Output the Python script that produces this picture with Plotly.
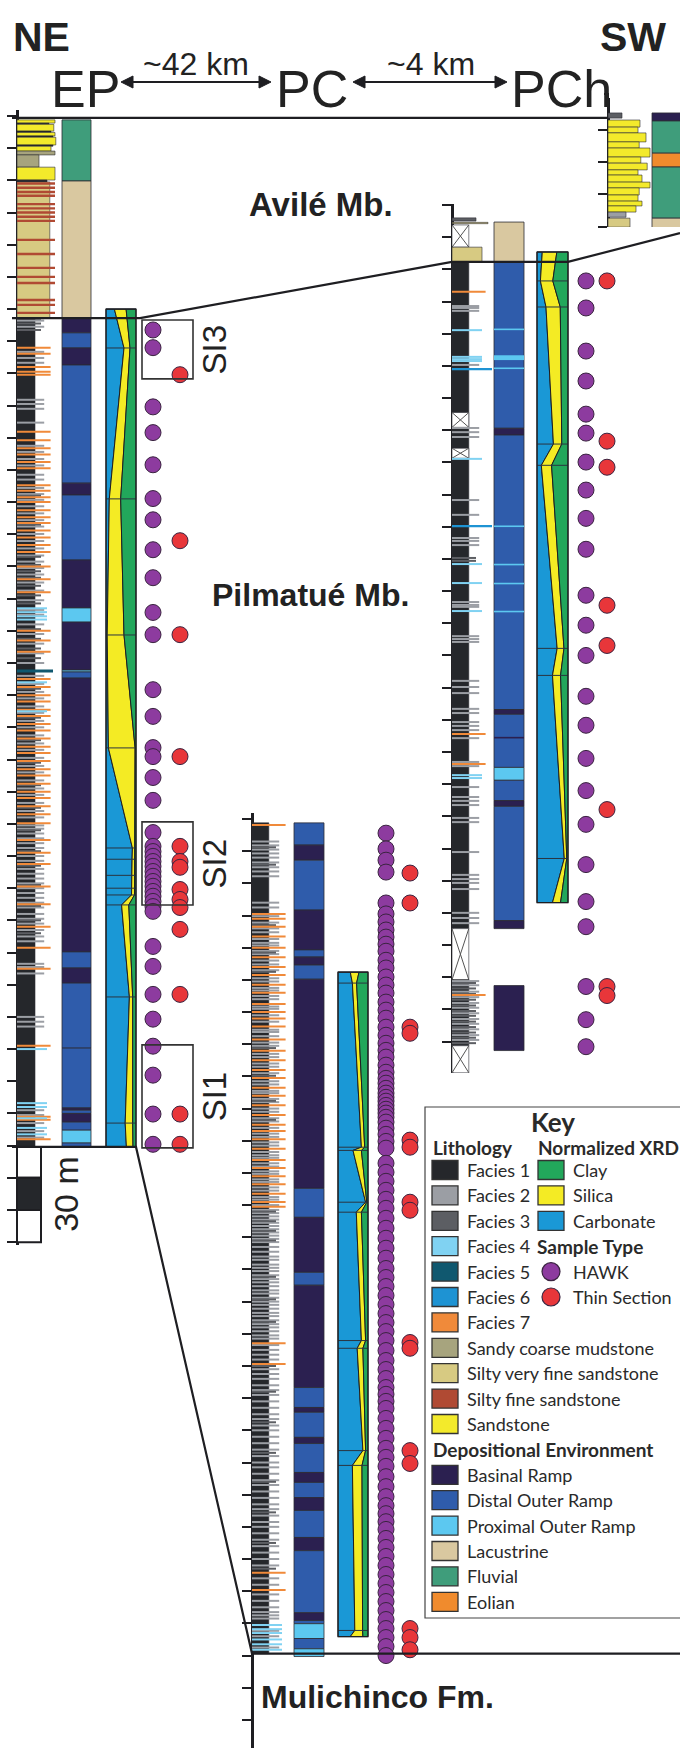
import plotly.graph_objects as go

W, H = 680, 1748
PXM = 3.2175            # pixels per metre, shared by every section
INK = "#1e1e22"
EDGE = "#2c2c34"
SANS = "Liberation Sans, Arial, sans-serif"
KEYFONT = "Lato, Carlito, sans-serif"

# ---------------------------------------------------------------- colours
LITH_COLORS = {
    "F1": "#25272b", "F2": "#9b9ea4", "F3": "#5c5e63", "F4": "#80d2f2",
    "F5": "#10586f", "F6": "#1e93d3", "F7": "#f08a3a",
    "SCM": "#a7a47e", "SVF": "#d7ca82", "SF": "#b04a33", "SS": "#f3ea2b",
    "COV": "#ffffff",
}
LINE_LEN = {"F2": 0.68, "F3": 0.6, "F4": 0.75, "F5": 0.9, "F6": 1.0, "F7": 0.84, "SF": 0.95}
ENV_COLORS = {"BR": "#2b2050", "DOR": "#2f5cab", "POR": "#5cc8f0",
              "LAC": "#d9c8a0", "FLU": "#3f9d7b", "EOL": "#f08b2d"}
XRD_COLORS = {"carb": "#1a98d6", "sil": "#f4eb24", "clay": "#22a75b"}
HAWK_COLOR = "#8d3b9f"
TS_COLOR = "#e8363a"

# ---------------------------------------------------------------- EP section (metres below datum)
EP_BEDS = [(1.2, 2.2, "SS", .95), (2.2, 2.6, "F1", .8), (2.6, 4.7, "SS", .92), (4.7, 5.1, "F1", .85),
           (5.1, 6.2, "SS", .95), (6.2, 6.6, "F1", .9), (6.6, 9.0, "SS", .97), (9.0, 9.4, "F1", .9),
           (9.4, 10.9, "SS", .85), (10.9, 12.1, "SCM", .95), (12.1, 15.9, "SCM", .55),
           (15.9, 19.9, "SS", .95), (19.9, 20.5, "F1", .75), (20.5, 62.8, "SVF", .82),
           (62.8, 320.4, "F1", .45)]
EP_SF = [21.0, 22.3, 23.6, 24.8, 27.4, 28.7, 30.0, 31.3, 32.6, 38.5, 42.9, 47.2, 50.0, 51.9, 57.2, 58.7, 61.2]
EP_F2 = [63.6, 65.5, 73.3, 75.2, 76.7, 88.2, 89.5, 91.0, 95.3, 102.5, 104.4, 106.6, 108.6, 111.5, 113.0,
         115.6, 117.5, 119.3, 121.3, 123.5, 125.6, 127.6, 129.9, 132.1, 134.4, 136.6, 138.5, 140.5, 142.5,
         145.0, 147.5, 150.5, 153.5, 155.0, 158.0, 161.0, 164.0, 167.0, 170.0, 174.0, 176.5, 179.0, 181.0,
         183.5, 185.5, 188.0, 190.0, 192.5, 195.0, 197.0, 199.5, 202.0, 204.0, 206.5, 209.0, 211.0, 213.5,
         216.0, 218.0, 220.5, 221.5, 223.0, 224.5, 226.0, 227.5, 230.0, 231.5, 234.0, 235.5, 237.0, 238.5,
         240.0, 241.5, 243.0, 244.5, 246.0, 248.0, 249.5, 251.0, 253.0, 255.0, 256.5, 263.5, 264.5, 266.5,
         280.0, 281.5, 283.0, 309.0, 310.5, 313.0, 315.5, 317.5]
EP_F3 = [63.0, 64.5, 66.5, 118.0, 127.0, 137.0, 139.5, 141.5, 143.5, 146.0, 149.0, 151.5, 159.5, 162.5,
         165.5, 168.5, 178.0, 187.0, 194.0, 201.0, 208.0, 215.0, 222.0, 228.5, 233.0, 239.0, 245.5, 250.0, 254.0]
EP_F7 = [72.0, 73.9, 78.0, 79.5, 80.4, 98.1, 100.8, 103.3, 105.2, 107.5, 109.5, 114.8, 116.5, 118.5, 120.0,
         122.5, 124.7, 126.5, 128.8, 131.0, 133.3, 135.5, 140.0, 144.0, 148.0, 160.0, 163.0, 166.5, 175.0,
         177.5, 180.0, 182.0, 184.5, 186.5, 189.0, 191.0, 193.5, 196.0, 198.0, 200.5, 203.0, 205.0, 207.5,
         210.0, 212.0, 214.5, 217.0, 219.8, 225.0, 229.0, 232.5, 239.5, 245.0, 252.0, 258.5, 265.0, 289.0,
         311.0, 312.0, 318.0]
EP_F4 = [153.0, 154.2, 155.5, 156.5, 176.0, 185.0, 290.0, 306.8, 308.0, 311.5, 314.5, 316.5]
EP_F5 = [172.5]
EP_ENV = [(1.2, 20.2, "FLU"), (20.2, 62.8, "LAC"), (62.8, 67.4, "BR"), (67.4, 72.1, "DOR"), (72.1, 77.4, "BR"),
          (77.4, 114.1, "DOR"), (114.1, 117.8, "BR"), (117.8, 138.0, "DOR"), (138.0, 152.9, "BR"),
          (152.9, 157.3, "POR"), (157.3, 172.2, "BR"), (172.2, 172.8, "POR"), (172.8, 174.7, "DOR"),
          (174.7, 259.8, "BR"), (259.8, 264.8, "DOR"), (264.8, 269.5, "BR"), (269.5, 289.7, "DOR"),
          (289.7, 308.3, "DOR"), (308.3, 309.0, "BR"), (309.0, 310.0, "DOR"), (310.0, 312.7, "BR"),
          (312.7, 315.2, "DOR"), (315.2, 319.2, "POR"), (319.2, 320.4, "DOR")]
EP_XRD_DEPTH = [60.0, 72.1, 119.0, 161.3, 196.4, 227.5, 231.0, 236.0, 240.0, 242.1, 245.2, 273.8, 313.0, 320.4]
EP_XRD_CARB = [28, 60, 11, 4, 8, 88, 87, 86, 86, 85, 52, 78, 64, 68]
EP_XRD_SIL = [39, 20, 38, 56, 89, 8, 9, 9, 10, 10, 24, 11, 25, 22]
EP_HAWK = [66.5, 72.0, 90.4, 98.4, 108.4, 118.9, 125.5, 134.8, 143.5, 154.3, 161.2, 178.3, 186.6, 196.3,
           199.1, 205.6, 212.7, 222.7, 227.0, 228.6, 230.1, 231.7, 233.2, 234.8, 236.3, 237.9, 239.4,
           241.0, 242.5, 244.1, 245.7, 247.2, 258.1, 264.3, 273.0, 280.7, 289.1, 298.1, 310.2, 319.6]
EP_TS = [80.4, 132.0, 161.2, 199.1, 227.0, 231.7, 233.5, 240.4, 243.5, 246.0, 252.8, 273.0, 310.2, 319.6]
SI_BOXES = [("SI3", 63.4, 81.7), ("SI2", 219.4, 245.2), ("SI1", 288.7, 320.7)]
SCALE_BAR = [(320.4, 330.0, "#ffffff"), (330.0, 340.0, "#25272b"), (340.0, 350.0, "#ffffff")]

# ---------------------------------------------------------------- PC section, upper panel
PCU_BEDS = [(4.0, 5.0, "F3", .6), (5.4, 5.8, "SVF", .9), (6.2, 13.1, "COV", .42), (13.1, 17.7, "SVF", .75),
            (17.7, 224.9, "F1", .42), (64.5, 69.1, "COV", .42), (75.6, 78.7, "COV", .42),
            (224.9, 240.8, "COV", .42), (240.8, 261.3, "F1", .42), (261.3, 269.7, "COV", .42)]
PCU_F2 = [31.4, 32.0, 32.9, 49.7, 69.3, 70.6, 72.1, 91.7, 96.3, 103.5, 104.4, 105.7, 123.4, 124.3, 124.9,
          134.0, 134.9, 135.8, 147.9, 149.8, 151.7, 156.6, 157.9, 160.7, 161.9, 163.2, 165.7, 173.1, 174.4,
          180.9, 184.0, 185.2, 186.5, 190.5, 191.8, 201.1, 208.2, 209.5, 210.7, 212.6, 220.0, 221.6, 223.2,
          241.2, 242.5, 244.5, 246.2, 248.0, 249.5, 251.2, 253.0, 254.5, 256.2, 258.0, 259.5]
PCU_F3 = [109.7, 110.6, 241.8, 243.5, 245.2, 247.0, 248.8, 250.5, 252.0, 253.8, 255.5, 257.2, 258.8, 260.5]
PCU_F7 = [27.0, 164.4, 173.7, 245.5]
PCU_F4 = [38.9, 47.2, 47.9, 48.5, 78.9, 111.6, 117.5, 126.2, 177.2, 178.1]
PCU_F6 = [51.0, 99.8]
PCU_ENV = [(5.3, 17.7, "LAC"), (17.7, 69.4, "DOR"), (69.4, 71.5, "BR"), (71.5, 156.8, "DOR"),
           (156.8, 158.3, "BR"), (158.3, 174.8, "DOR"), (174.8, 178.8, "POR"), (178.8, 185.1, "DOR"),
           (185.1, 186.9, "BR"), (186.9, 222.4, "DOR"), (222.4, 224.9, "BR"), (242.6, 262.8, "BR")]
PCU_ENV_BANDS = [(38.4, 38.9, "POR"), (46.7, 48.2, "POR"), (50.5, 51.0, "POR"), (99.6, 100.1, "POR"),
                 (111.5, 112.0, "POR"), (117.4, 117.9, "POR"), (126.1, 126.6, "POR"), (165.3, 165.8, "BR")]
PCU_XRD_DEPTH = [14.6, 23.6, 31.7, 74.3, 80.9, 137.8, 146.2, 203.1, 216.8]
PCU_XRD_CARB = [17, 11, 29, 53, 14, 65, 50, 88, 50]
PCU_XRD_SIL = [47, 40, 46, 27, 33, 22, 26, 8, 26]
PCU_HAWK = [23.6, 32.0, 45.4, 54.7, 65.0, 70.9, 79.9, 88.6, 97.4, 107.0, 121.3, 130.6, 140.0, 152.7, 161.7,
            172.0, 182.0, 192.5, 205.0, 216.5, 224.3, 242.9, 253.2, 261.6]
PCU_TS = [23.6, 73.4, 81.5, 124.4, 136.9, 187.9, 242.9, 245.7]

# ---------------------------------------------------------------- PC section, lower panel
PCL_BEDS = [(1.2, 259.4, "F1", .42)]
PCL_F2 = [7.0, 8.2, 9.5, 10.7, 12.0, 13.5, 15.0, 16.3, 17.8, 26.0, 27.5, 30.2, 32.2, 34.0, 35.2, 37.3, 38.5,
          39.3, 41.0, 42.0, 44.0, 45.2, 47.0, 49.5, 50.5, 52.5, 53.3, 55.0, 56.0, 58.3, 59.0, 61.0, 63.0,
          65.5, 66.2, 67.5, 69.5, 70.5, 73.0, 74.0, 76.0, 77.0, 79.0, 81.5, 82.5, 84.5, 85.2, 87.0, 88.0,
          90.0, 91.0, 93.0, 94.0, 96.0, 97.8, 98.8, 100.5, 101.5, 103.5, 104.5, 105.3, 107.0, 108.0, 109.5,
          110.3, 112.0, 112.8, 114.5, 115.5, 117.5, 118.3, 120.0, 121.5, 122.5, 123.5, 124.5, 125.5, 126.5,
          127.5, 128.5, 129.5, 130.5, 131.5, 133.0, 134.5, 136.0, 137.0, 138.5, 139.5, 140.5, 141.8, 143.0,
          144.0, 145.2, 146.5, 147.5, 148.8, 150.0, 151.0, 152.2, 153.5, 154.5, 155.8, 157.0, 158.0, 159.2,
          160.5, 161.5, 163.5, 165.0, 166.5, 168.0, 171.0, 172.5, 174.0, 176.0, 177.5, 179.0, 181.0, 183.0,
          185.0, 186.5, 188.5, 190.0, 192.0, 194.0, 196.0, 198.0, 200.0, 201.5, 203.5, 205.5, 207.0, 209.0,
          211.0, 213.0, 214.5, 216.5, 218.5, 220.0, 222.0, 224.0, 226.0, 228.0, 230.0, 232.0, 236.0, 238.0,
          241.0, 243.0, 245.0, 246.5, 247.5, 248.5, 252.3, 254.0, 257.5]
PCL_F3 = [8.8, 14.2, 33.0, 41.5, 47.5, 71.2, 79.8, 87.6, 93.5, 122.0, 125.0, 128.0, 131.0, 142.3, 149.3,
          156.3, 170.0, 178.0, 187.5, 197.0, 206.0, 215.5, 225.0, 233.0]
PCL_F7 = [1.9, 29.5, 31.0, 33.5, 36.5, 40.0, 43.0, 46.0, 48.5, 51.5, 54.0, 57.5, 60.0, 62.0, 64.5, 68.5,
          72.0, 75.0, 78.0, 80.5, 83.5, 86.0, 89.0, 92.0, 95.0, 97.0, 99.5, 102.5, 106.0, 108.5, 111.0,
          113.5, 116.5, 119.0, 120.5, 162.9, 169.4, 234.3, 239.6]
PCL_F4 = [250.5, 251.8, 253.0, 255.0, 256.5, 258.2]
PCL_ENV = [(1.2, 8.1, "DOR"), (8.1, 12.8, "BR"), (12.8, 28.3, "DOR"), (28.3, 40.7, "BR"), (40.7, 42.9, "DOR"),
           (42.9, 45.4, "BR"), (45.4, 49.8, "DOR"), (49.8, 114.8, "BR"), (114.8, 123.8, "DOR"),
           (123.8, 140.9, "BR"), (140.9, 144.9, "DOR"), (144.9, 176.7, "BR"), (176.7, 182.9, "DOR"),
           (182.9, 184.4, "BR"), (184.4, 192.2, "DOR"), (192.2, 194.1, "BR"), (194.1, 203.1, "DOR"),
           (203.1, 206.2, "BR"), (206.2, 210.9, "DOR"), (210.9, 214.9, "BR"), (214.9, 223.3, "DOR"),
           (223.3, 227.4, "BR"), (227.4, 246.7, "DOR"), (246.7, 249.1, "BR"), (249.1, 250.1, "DOR"),
           (250.1, 254.7, "POR"), (254.7, 257.9, "DOR"), (257.9, 260.3, "POR")]
PCL_XRD_DEPTH = [47.6, 51.0, 102.0, 103.0, 119.1, 122.2, 162.1, 164.5, 196.3, 200.9, 252.2, 254.1]
PCL_XRD_CARB = [41, 48, 78, 50, 92, 61, 78, 64, 83, 48, 56, 41]
PCL_XRD_SIL = [29, 14, 11, 28, 4, 17, 14, 19, 9, 32, 26, 42]
PCL_HAWK = [4.4, 9.3, 12.8, 16.5, 26.1, 29.5, 32.0, 34.5, 36.7, 38.9, 41.1, 43.9, 46.3, 49.1, 51.6, 54.1,
            56.9, 59.4, 61.9, 64.7, 67.2, 69.7, 71.9, 74.0, 76.5, 78.7, 80.6, 82.1, 83.7, 85.2, 86.5, 87.7,
            89.0, 90.2, 91.4, 92.7, 94.2, 96.1, 98.0, 100.2, 102.3, 107.0, 109.8, 112.6, 115.4, 118.2,
            121.0, 124.1, 127.2, 130.3, 133.4, 136.5, 139.7, 142.5, 145.3, 148.1, 150.9, 153.7, 156.5,
            159.3, 162.1, 165.2, 168.3, 171.1, 173.9, 176.7, 178.8, 181.0, 183.2, 186.3, 189.4, 192.5,
            195.6, 198.4, 201.2, 204.4, 207.5, 210.6, 213.4, 215.9, 218.4, 220.8, 223.6, 226.4, 229.2,
            232.0, 234.8, 237.6, 240.4, 243.2, 246.0, 248.8, 251.6, 254.4, 257.2, 260.0]
PCL_TS = [16.8, 26.1, 64.7, 66.6, 99.8, 102.0, 119.1, 121.6, 162.7, 164.5, 196.3, 200.3, 251.6, 254.4, 258.2]

# ---------------------------------------------------------------- PCh section
PCH_BEDS = [(-5.3, -3.7, "F3", .35), (-3.1, -0.9, "SS", .8), (-0.9, 0.9, "SS", .75), (0.9, 3.7, "SS", .95),
            (3.7, 5.6, "SS", .78), (5.6, 8.4, "SS", 1.05), (8.4, 10.3, "SS", .82), (10.3, 12.4, "SS", .98),
            (12.4, 14.0, "SS", .75), (14.0, 16.2, "SS", .85), (16.2, 18.0, "SS", 1.05), (18.0, 20.2, "SS", .78),
            (20.2, 22.1, "SS", .75), (22.1, 23.6, "SS", .85), (23.6, 25.5, "SS", .7), (25.5, 27.1, "F2", .45),
            (27.4, 30.2, "SVF", .55)]
PCH_ENV = [(-5.3, -2.8, "BR"), (-2.8, 7.2, "FLU"), (7.2, 11.5, "EOL"), (11.5, 27.4, "FLU"), (27.4, 30.5, "LAC")]

# ---------------------------------------------------------------- correlation horizons (section, depth, x)
HORIZONS = [
    [("EP", 0.6, 12), ("EP", 0.6, 608)],
    [("EP", 62.8, 12), ("EP", 62.8, 140), ("PCu", 17.7, 452), ("PCu", 17.7, 568), ("PCh", 32.0, 680)],
    [("EP", 320.4, 12), ("EP", 320.4, 136), ("PCl", 259.4, 252), ("PCl", 259.4, 680)],
]

# ---------------------------------------------------------------- key entries
KEY_LITH = [("F1", "Facies 1"), ("F2", "Facies 2"), ("F3", "Facies 3"), ("F4", "Facies 4"),
            ("F5", "Facies 5"), ("F6", "Facies 6"), ("F7", "Facies 7"), ("SCM", "Sandy coarse mudstone"),
            ("SVF", "Silty very fine sandstone"), ("SF", "Silty fine sandstone"), ("SS", "Sandstone")]
KEY_XRD = [("clay", "Clay"), ("sil", "Silica"), ("carb", "Carbonate")]
KEY_SAMPLES = [(HAWK_COLOR, "HAWK"), (TS_COLOR, "Thin Section")]
KEY_ENV = [("BR", "Basinal Ramp"), ("DOR", "Distal Outer Ramp"), ("POR", "Proximal Outer Ramp"),
           ("LAC", "Lacustrine"), ("FLU", "Fluvial"), ("EOL", "Eolian")]

# ---------------------------------------------------------------- page layout of the sections (pixels)
SECTIONS = {
    "EP":  dict(datum=116, top=110, bottom=1245, axis_x=17, env=(62, 91), xrd=(106, 136), hawk_x=153, ts_x=180),
    "PCu": dict(datum=205, top=204, bottom=1073, axis_x=452, env=(494, 524), xrd=(537, 568), hawk_x=586, ts_x=607),
    "PCl": dict(datum=819, top=813, bottom=1748, axis_x=252, env=(294, 324), xrd=(338, 368), hawk_x=386, ts_x=410),
    "PCh": dict(datum=130, top=98, bottom=227, axis_x=608, env=(652, 700), xrd=None),
}
ORDER = ["EP", "PCu", "PCl", "PCh"]

fig = go.Figure()
shapes, annotations = [], []
axes = {
    "xaxis": dict(domain=[0, 1], range=[0, W], visible=False, anchor="y", fixedrange=True),
    "yaxis": dict(domain=[0, 1], range=[H, 0], visible=False, anchor="x", fixedrange=True),
}


def span_axis(x0, x1, lo, hi, pad=3):
    scale = (hi - lo) / (x1 - x0)
    return dict(domain=[(x0 - pad) / W, (x1 + pad) / W], range=[lo - pad * scale, hi + pad * scale],
                visible=False, anchor="free", position=0, fixedrange=True)


yref, xlith, xxrd = {}, {}, {}
nx = 2
for i, key in enumerate(ORDER):
    sec = SECTIONS[key]
    n = i + 2
    yref[key] = f"y{n}"
    axes[f"yaxis{n}"] = dict(
        domain=[1 - sec["bottom"] / H, 1 - sec["top"] / H],
        range=[(sec["bottom"] - sec["datum"]) / PXM, (sec["top"] - sec["datum"]) / PXM],
        anchor="free", position=sec["axis_x"] / W, side="left",
        showline=True, linewidth=3, linecolor=INK, ticks="outside", ticklen=9, tickwidth=2,
        tickcolor=INK, tick0=0, dtick=10, showticklabels=False, showgrid=False, zeroline=False,
        fixedrange=True)
    L = sec["axis_x"]
    axes[f"xaxis{nx}"] = span_axis(L, L + 48, 0, 1.2)
    xlith[key] = f"x{nx}"
    nx += 1
    if sec["xrd"]:
        a, b = sec["xrd"]
        axes[f"xaxis{nx}"] = span_axis(a, b, 0, 100)
        xxrd[key] = f"x{nx}"
        nx += 1


def to_px(key, d):
    return SECTIONS[key]["datum"] + d * PXM


def add_beds(key, beds):
    for top, base, code, width in beds:
        shapes.append(dict(type="rect", xref=xlith[key], yref=yref[key], x0=0, x1=width, y0=top, y1=base,
                           fillcolor=LITH_COLORS[code], line=dict(color=EDGE, width=0.6), layer="below"))
        if code == "COV":
            for ya, yb in ((top, base), (base, top)):
                shapes.append(dict(type="line", xref=xlith[key], yref=yref[key], x0=0, x1=width,
                                   y0=ya, y1=yb, line=dict(color="#555", width=1), layer="below"))


def add_lines(key, depths, code, width=2.0):
    xs, ys = [], []
    for d in depths:
        xs += [0, LINE_LEN[code], None]
        ys += [d, d, None]
    fig.add_trace(go.Scatter(x=xs, y=ys, xaxis=xlith[key], yaxis=yref[key], mode="lines",
                             line=dict(color=LITH_COLORS[code], width=width),
                             hoverinfo="skip", showlegend=False))


def add_env(key, intervals, outline=True):
    a, b = SECTIONS[key]["env"]
    for top, base, code in intervals:
        shapes.append(dict(type="rect", xref="x", yref=yref[key], x0=a, x1=b, y0=top, y1=base,
                           fillcolor=ENV_COLORS[code],
                           line=dict(color=EDGE, width=0.8 if outline else 0), layer="below"))


def add_xrd(key, depths, carb, sil):
    xa, ya = xxrd[key], yref[key]
    tops = [c + s for c, s in zip(carb, sil)]
    rev = depths[::-1]
    polys = [([0] * len(depths) + carb[::-1], "carb"),
             (carb + tops[::-1], "sil"),
             (tops + [100] * len(depths), "clay")]
    for xs, code in polys:
        ys = depths + rev
        fig.add_trace(go.Scatter(x=xs + [xs[0]], y=ys + [ys[0]], xaxis=xa, yaxis=ya, mode="lines",
                                 fill="toself", fillcolor=XRD_COLORS[code],
                                 line=dict(color=INK, width=1), hoverinfo="skip", showlegend=False))
    xs, ys = [], []
    for d in depths:
        xs += [0, 100, None]
        ys += [d, d, None]
    fig.add_trace(go.Scatter(x=xs, y=ys, xaxis=xa, yaxis=ya, mode="lines",
                             line=dict(color="#2a3440", width=1), hoverinfo="skip", showlegend=False))
    shapes.append(dict(type="rect", xref=xa, yref=ya, x0=0, x1=100, y0=depths[0], y1=depths[-1],
                       line=dict(color=INK, width=1.2), layer="above"))


def add_samples(key, depths, color, xkey):
    x = SECTIONS[key][xkey]
    fig.add_trace(go.Scatter(x=[x] * len(depths), y=depths, xaxis="x", yaxis=yref[key], mode="markers",
                             marker=dict(size=16, color=color, line=dict(color="#3a2440", width=1)),
                             cliponaxis=False, hoverinfo="skip", showlegend=False))


# ---------------------------------------------------------------- EP
add_env("EP", EP_ENV)
add_beds("EP", EP_BEDS)
add_lines("EP", EP_SF, "SF", 2.4)
add_lines("EP", EP_F2, "F2")
add_lines("EP", EP_F3, "F3")
add_lines("EP", EP_F7, "F7")
add_lines("EP", EP_F4, "F4")
add_lines("EP", EP_F5, "F5", 3)
add_xrd("EP", EP_XRD_DEPTH, EP_XRD_CARB, EP_XRD_SIL)
add_samples("EP", EP_HAWK, HAWK_COLOR, "hawk_x")
add_samples("EP", EP_TS, TS_COLOR, "ts_x")
for label, top, base in SI_BOXES:
    shapes.append(dict(type="rect", xref="x", yref=yref["EP"], x0=142, x1=193, y0=top, y1=base,
                       line=dict(color="#333", width=1.6), layer="above"))
    annotations.append(dict(x=214, y=(top + base) / 2, xref="x", yref=yref["EP"], text=label,
                            textangle=-90, showarrow=False, font=dict(family=SANS, size=33, color="#222")))
for top, base, color in SCALE_BAR:
    shapes.append(dict(type="rect", xref="x", yref=yref["EP"], x0=17, x1=41, y0=top, y1=base,
                       fillcolor=color, line=dict(color=INK, width=2), layer="above"))
annotations.append(dict(x=66, y=335, xref="x", yref=yref["EP"], text="30 m", textangle=-90,
                        showarrow=False, font=dict(family=SANS, size=34, color="#222")))

# ---------------------------------------------------------------- PC upper panel
add_env("PCu", PCU_ENV)
add_env("PCu", PCU_ENV_BANDS, outline=False)
add_beds("PCu", PCU_BEDS)
add_lines("PCu", PCU_F2, "F2")
add_lines("PCu", PCU_F3, "F3")
add_lines("PCu", PCU_F7, "F7")
add_lines("PCu", PCU_F4, "F4")
add_lines("PCu", PCU_F6, "F6", 2.4)
add_xrd("PCu", PCU_XRD_DEPTH, PCU_XRD_CARB, PCU_XRD_SIL)
add_samples("PCu", PCU_HAWK, HAWK_COLOR, "hawk_x")
add_samples("PCu", PCU_TS, TS_COLOR, "ts_x")

# ---------------------------------------------------------------- PC lower panel
add_env("PCl", PCL_ENV)
add_beds("PCl", PCL_BEDS)
add_lines("PCl", PCL_F2, "F2")
add_lines("PCl", PCL_F3, "F3")
add_lines("PCl", PCL_F7, "F7")
add_lines("PCl", PCL_F4, "F4")
add_xrd("PCl", PCL_XRD_DEPTH, PCL_XRD_CARB, PCL_XRD_SIL)
add_samples("PCl", PCL_HAWK, HAWK_COLOR, "hawk_x")
add_samples("PCl", PCL_TS, TS_COLOR, "ts_x")

# ---------------------------------------------------------------- PCh
add_env("PCh", PCH_ENV)
add_beds("PCh", PCH_BEDS)
shapes.append(dict(type="path", xref="x", yref="y", path="M 604,94 L 608,94 L 608,99",
                   line=dict(color=INK, width=2), layer="above"))

# ---------------------------------------------------------------- correlation lines
for horizon in HORIZONS:
    pts = [(x, to_px(k, d)) for k, d, x in horizon]
    path = "M " + " L ".join(f"{x:.1f},{y:.1f}" for x, y in pts)
    shapes.append(dict(type="path", xref="x", yref="y", path=path,
                       line=dict(color=INK, width=2.2), layer="above"))

# ---------------------------------------------------------------- header
header = [("NE", 11, 37, "left", 41, True), ("SW", 668, 37, "right", 41, True),
          ("EP", 49, 89, "left", 52, False), ("PC", 274, 89, "left", 52, False),
          ("PCh", 509, 89, "left", 52, False),
          ("~42 km", 196, 64, "center", 32, False), ("~4 km", 431, 64, "center", 32, False)]
for text, x, y, anchor, size, bold in header:
    annotations.append(dict(x=x, y=y, xref="x", yref="y", text=f"<b>{text}</b>" if bold else text,
                            xanchor=anchor, yanchor="middle", showarrow=False,
                            font=dict(family=SANS, size=size, color="#222")))
for x0, x1 in ((121, 271), (353, 507)):
    y = 82
    shapes.append(dict(type="line", xref="x", yref="y", x0=x0 + 8, x1=x1 - 8, y0=y, y1=y,
                       line=dict(color=INK, width=2), layer="above"))
    shapes.append(dict(type="path", xref="x", yref="y", fillcolor=INK, line=dict(color=INK, width=1),
                       path=f"M {x0},{y} L {x0 + 12},{y - 6} L {x0 + 12},{y + 6} Z", layer="above"))
    shapes.append(dict(type="path", xref="x", yref="y", fillcolor=INK, line=dict(color=INK, width=1),
                       path=f"M {x1},{y} L {x1 - 12},{y - 6} L {x1 - 12},{y + 6} Z", layer="above"))

for text, x, y, size in (("Avilé Mb.", 321, 204, 33), ("Pilmatué Mb.", 310, 595, 32),
                         ("Mulichinco Fm.", 377, 1697, 32)):
    annotations.append(dict(x=x, y=y, xref="x", yref="y", text=f"<b>{text}</b>", showarrow=False,
                            xanchor="center", yanchor="middle", font=dict(family=SANS, size=size, color="#222")))

# ---------------------------------------------------------------- key
KX0, KY0, KX1, KY1 = 425, 1107, 692, 1618
ROW0, STEP = 1170, 25.4
shapes.append(dict(type="rect", xref="x", yref="y", x0=KX0, x1=KX1, y0=KY0, y1=KY1,
                   fillcolor="#ffffff", line=dict(color="#444", width=1.2), layer="above"))


def key_text(text, x, y, size=18, bold=False, anchor="left"):
    annotations.append(dict(x=x, y=y, xref="x", yref="y", text=f"<b>{text}</b>" if bold else text,
                            xanchor=anchor, yanchor="middle", showarrow=False,
                            font=dict(family=KEYFONT, size=size, color="#2a2a2a")))


def key_swatch(x, y, color):
    shapes.append(dict(type="rect", xref="x", yref="y", x0=x, x1=x + 26, y0=y - 9.5, y1=y + 9.5,
                       fillcolor=color, line=dict(color="#333", width=1.3), layer="above"))


key_text("Key", 553, 1122, size=26, bold=True, anchor="center")
key_text("Lithology", 431, 1147, size=19, bold=True)
key_text("Normalized XRD", 536, 1147, size=19, bold=True)
for i, (code, label) in enumerate(KEY_LITH):
    y = ROW0 + i * STEP
    key_swatch(432, y, LITH_COLORS[code])
    key_text(label, 465, y)
for j, (code, label) in enumerate(KEY_XRD):
    y = ROW0 + j * STEP
    key_swatch(538, y, XRD_COLORS[code])
    key_text(label, 571, y)
key_text("Sample Type", 535, ROW0 + 3 * STEP, size=19, bold=True)
for j, (color, label) in enumerate(KEY_SAMPLES):
    y = ROW0 + (4 + j) * STEP
    shapes.append(dict(type="circle", xref="x", yref="y", x0=542, x1=560, y0=y - 9, y1=y + 9,
                       fillcolor=color, line=dict(color="#3a2440", width=1.2), layer="above"))
    key_text(label, 571, y)
key_text("Depositional Environment", 431, ROW0 + 11 * STEP, size=19, bold=True)
for j, (code, label) in enumerate(KEY_ENV):
    y = ROW0 + (12 + j) * STEP
    key_swatch(432, y, ENV_COLORS[code])
    key_text(label, 465, y)

fig.update_layout(
    width=W, height=H, autosize=False, margin=dict(l=0, r=0, t=0, b=0, pad=0),
    paper_bgcolor="#ffffff", plot_bgcolor="rgba(0,0,0,0)", showlegend=False,
    shapes=shapes, annotations=annotations, **axes)

fig.write_html("out.html", include_plotlyjs=True, config={"displayModeBar": False, "staticPlot": True})
